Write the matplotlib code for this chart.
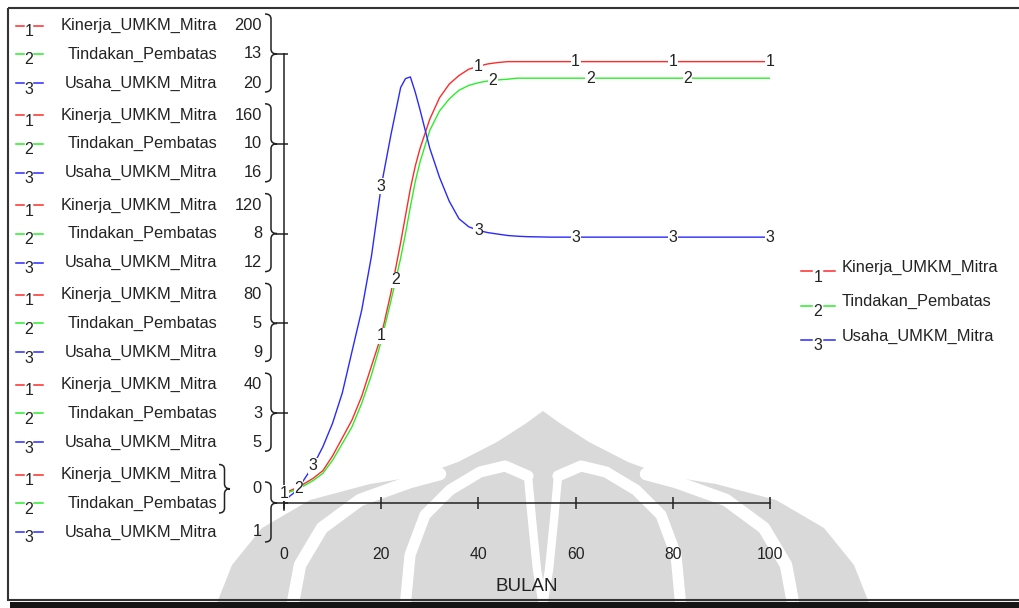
import numpy as np
import matplotlib
matplotlib.use("Agg")
import matplotlib.pyplot as plt
from matplotlib.path import Path
from matplotlib.patches import PathPatch, Polygon, Rectangle

plt.rcParams['font.family'] = ['Liberation Sans', 'DejaVu Sans']

# simulation output (BULAN = month)
bulan = [0, 2, 4, 6, 8, 10, 12, 14, 16, 18, 20, 22, 24, 25, 26, 27, 28, 30, 32, 34,
         36, 38, 40, 42, 44, 46, 48, 50, 55, 60, 70, 80, 90, 100]
kinerja = [4.4, 6.2, 8.4, 11.0, 14.4, 21.0, 29.0, 37.0, 47.6, 61.0, 74.4, 93.6, 116, 128,
           140, 150, 158, 171, 180.5, 186.6, 190.4, 193.2, 194.6, 195.6, 196.2, 196.6,
           196.6, 196.6, 196.6, 196.6, 196.6, 196.6, 196.6, 196.6]
tindakan = [0.26, 0.36, 0.49, 0.65, 0.86, 1.24, 1.72, 2.21, 2.89, 3.71, 4.68, 5.85, 7.09,
            7.80, 8.58, 9.30, 9.88, 10.79, 11.35, 11.70, 11.95, 12.09, 12.17, 12.22, 12.25,
            12.27, 12.30, 12.30, 12.30, 12.30, 12.30, 12.30, 12.30, 12.30]
usaha = [1.10, 1.42, 1.95, 2.58, 3.38, 4.38, 5.66, 7.42, 9.17, 11.45, 14.40, 16.58, 18.58,
         18.96, 19.03, 18.39, 17.63, 16.01, 14.78, 13.77, 13.03, 12.69, 12.53, 12.44, 12.38,
         12.32, 12.29, 12.27, 12.25, 12.25, 12.25, 12.25, 12.25, 12.25]

names = ['Kinerja_UMKM_Mitra', 'Tindakan_Pembatas', 'Usaha_UMKM_Mitra']
colors = ['#ff2a2a', '#2aee2a', '#2a2aff']
kin_ticks = [0, 40, 80, 120, 160, 200]
tin_ticks = ['0', '3', '5', '8', '10', '13']
usa_ticks = ['1', '5', '9', '12', '16', '20']
x_ticks = [0, 20, 40, 60, 80, 100]
# where the curve numbers sit along each line
label_x = [[0, 20, 40, 60, 80, 100], [3, 23, 43, 63, 83], [6, 20, 40, 60, 80, 100]]

W, H = 1019, 608
txt = '#222222'
fig = plt.figure(figsize=(W / 100, H / 100), dpi=100)

# overlay in pixel coordinates for frame, watermark, legends
deco = fig.add_axes([0, 0, 1, 1], zorder=0)
deco.set_xlim(0, W)
deco.set_ylim(H, 0)
deco.axis('off')

# faint logo watermark
grey = '#d9d9d9'
outer = [(215, 608), (232, 565), (262, 528), (310, 500), (370, 484), (420, 476), (458, 462),
         (497, 442), (525, 424), (543, 411), (561, 424), (589, 442), (628, 462), (666, 476),
         (716, 484), (776, 500), (824, 528), (854, 565), (871, 608)]
deco.add_patch(Polygon(outer, closed=True, fc=grey, ec='none', zorder=1))
def mirror(pts):
    return [(1086 - px, py) for px, py in pts]
band_a = [(292, 608), (300, 565), (322, 528), (360, 500), (410, 482), (440, 474)]
band_b = [(405, 608), (410, 555), (425, 515), (450, 490), (480, 472), (505, 466), (528, 476)]
petal = [(528, 476), (532, 520), (537, 570), (543, 606)]
for pts, lw in [(band_a, 9), (band_b, 8), (petal, 6)]:
    for p in (pts, mirror(pts)):
        xs, ys = zip(*p)
        deco.plot(xs, ys, color='white', lw=lw, solid_capstyle='round', zorder=2)

# frame and bottom bar
deco.add_patch(Rectangle((8, 8), W, 592, fill=False, ec='#333333', lw=1.5, zorder=3))
deco.add_patch(Rectangle((10, 602), W, 10, fc='#151515', ec='none', zorder=3))

# main axes: Kinerja scale, twins for the other two
ax = fig.add_axes([284 / W, 105 / H, 486 / W, 449 / H], zorder=2)
ax.patch.set_visible(False)
ax.set_xlim(0, 100)
ax.set_ylim(0, 200)
ax2 = ax.twinx()
ax2.set_ylim(0, 13)
ax3 = ax.twinx()
ax3.set_ylim(1, 20)
ax2.axis('off')
ax3.axis('off')
ax2.set_zorder(3)
ax3.set_zorder(4)

for s in ['top', 'right']:
    ax.spines[s].set_visible(False)
for s in ['left', 'bottom']:
    ax.spines[s].set_color(txt)
    ax.spines[s].set_linewidth(1.1)
ax.spines['left'].set_bounds(-3.1, 200)
ax.set_xticks(x_ticks)
ax.set_xticklabels([str(v) for v in x_ticks])
ax.tick_params(axis='x', direction='inout', length=9, width=1.1, color=txt,
               labelsize=11.3, labelcolor=txt, pad=27)
ax.set_yticks(kin_ticks)
ax.tick_params(axis='y', direction='in', length=3, width=1.1, color=txt, labelleft=False)
ax.set_xlabel('BULAN', fontsize=13.5, color=txt, labelpad=12)

axes = [ax, ax2, ax3]
series = [kinerja, tindakan, usaha]
for a, vals, c in zip(axes, series, colors):
    a.plot(bulan, vals, color=c, lw=1.0)
for i, (a, vals) in enumerate(zip(axes, series)):
    for xl in label_x[i]:
        ax3.text(xl, np.interp(xl, bulan, vals), str(i + 1), transform=a.transData,
                 ha='center', va='center', fontsize=11.5, color=txt, zorder=10,
                 bbox=dict(fc='white', ec='none', pad=0.3))

def to_px(v):
    return H - ax.transData.transform((0, v))[1]

def brace(x0, top, tip, bot, w=12, r=5):
    xm = x0 + w / 2
    verts = [(x0, top), (xm, top), (xm, top + r), (xm, tip - r), (xm, tip), (x0 + w, tip),
             (xm, tip), (xm, tip + r), (xm, bot - r), (xm, bot), (x0, bot)]
    codes = [Path.MOVETO, Path.CURVE3, Path.CURVE3, Path.LINETO, Path.CURVE3, Path.CURVE3,
             Path.CURVE3, Path.CURVE3, Path.LINETO, Path.CURVE3, Path.CURVE3]
    deco.add_patch(PathPatch(Path(verts, codes), fill=False, ec=txt, lw=1.1, zorder=5))

def marker(xa, xb, xc, xd, y, k, dy):
    deco.plot([xa, xb], [y, y], color=colors[k], lw=1.1, zorder=5)
    deco.plot([xc, xd], [y, y], color=colors[k], lw=1.1, zorder=5)
    deco.text((xb + xc) / 2, y + dy, str(k + 1), ha='center', va='center',
              fontsize=11.5, color=txt, zorder=5)

# left multi-scale legend
fs = 11.8
for g in range(6):
    ty = to_px(kin_ticks[g])
    rows = [ty - 28.5, ty, ty + 29]
    for k in range(3):
        marker(16, 24, 34, 43, rows[k], k, 6)
        deco.text(217, rows[k], names[k], ha='right', va='center', fontsize=fs, color=txt, zorder=5)
    if g == 0:
        deco.text(262, (rows[0] + rows[1]) / 2, str(kin_ticks[g]), ha='right', va='center',
                  fontsize=fs, color=txt, zorder=5)
        deco.text(262, rows[2], usa_ticks[g], ha='right', va='center', fontsize=fs, color=txt, zorder=5)
        brace(219, rows[0] - 10, (rows[0] + rows[1]) / 2, rows[1] + 10, w=11)
        brace(265, ty - 21, ty, ty + 39)
    else:
        for k, lab in enumerate([str(kin_ticks[g]), tin_ticks[g], usa_ticks[g]]):
            deco.text(262, rows[k], lab, ha='right', va='center', fontsize=fs, color=txt, zorder=5)
        brace(265, ty - 40, ty, ty + 38)
    deco.plot([277, 284], [ty, ty], color=txt, lw=1.1, zorder=5)

# right legend
for k in range(3):
    y = 267 + 34.5 * k
    marker(801, 812, 824, 835, y + 4, k, 6)
    deco.text(842, y, names[k], ha='left', va='center', fontsize=fs, color=txt, zorder=5)

fig.savefig('out.png', dpi=100)
